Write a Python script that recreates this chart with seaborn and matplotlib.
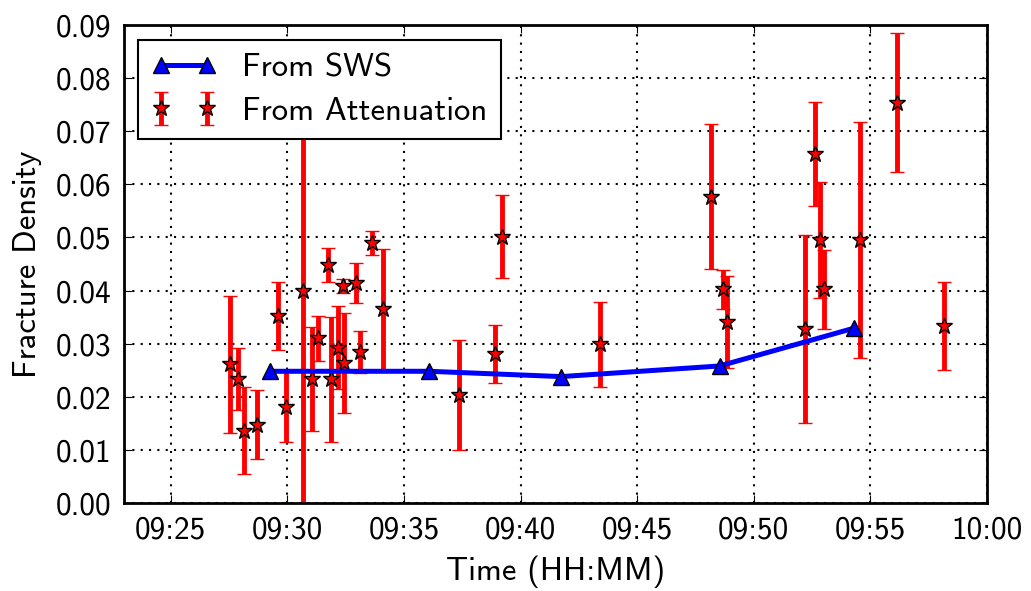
import matplotlib
matplotlib.use("Agg")
import matplotlib.pyplot as plt
import matplotlib.dates as mdates
import seaborn as sns
import pandas as pd
import numpy as np

# --- data ---
sws_time = ["09:29:15", "09:36:05", "09:41:45", "09:48:32", "09:54:17"]
sws_density = [0.0248, 0.0248, 0.0238, 0.0258, 0.0329]

att_time = ["09:27:32", "09:27:53", "09:28:08", "09:28:42", "09:29:35", "09:29:56",
            "09:30:41", "09:31:04", "09:31:19", "09:31:46", "09:31:52", "09:32:11",
            "09:32:24", "09:32:26", "09:32:56", "09:33:08", "09:33:39", "09:34:05",
            "09:37:22", "09:38:55", "09:39:13", "09:43:25", "09:48:09", "09:48:41",
            "09:48:51", "09:52:11", "09:52:38", "09:52:51", "09:53:01", "09:54:34",
            "09:56:08", "09:58:09"]
att_density = [0.0261, 0.0233, 0.0136, 0.0147, 0.0353, 0.0180,
               0.0400, 0.0233, 0.0310, 0.0449, 0.0233, 0.0292,
               0.0409, 0.0263, 0.0414, 0.0284, 0.0490, 0.0365,
               0.0203, 0.0280, 0.0501, 0.0299, 0.0577, 0.0402,
               0.0341, 0.0327, 0.0657, 0.0495, 0.0402, 0.0495,
               0.0754, 0.0333]
att_error = [0.0129, 0.0058, 0.0082, 0.0065, 0.0064, 0.0066,
             0.0460, 0.0098, 0.0042, 0.0032, 0.0118, 0.0078,
             0.0013, 0.0094, 0.0037, 0.0040, 0.0023, 0.0114,
             0.0103, 0.0055, 0.0078, 0.0080, 0.0136, 0.0037,
             0.0087, 0.0177, 0.0098, 0.0109, 0.0074, 0.0222,
             0.0130, 0.0083]

yticks = [0.00, 0.01, 0.02, 0.03, 0.04, 0.05, 0.06, 0.07, 0.08, 0.09]

day = "2015-01-01 "
sws_df = pd.DataFrame({"time": pd.to_datetime([day + t for t in sws_time]),
                       "density": sws_density})
att_df = pd.DataFrame({"time": pd.to_datetime([day + t for t in att_time]),
                       "density": att_density, "err": att_error})

sns.set_style("ticks")
plt.rcParams.update({
    "font.family": ["cmss10", "DejaVu Sans"],
    "mathtext.fontset": "cm",
    "axes.formatter.use_mathtext": True,
    "axes.unicode_minus": False,
    "xtick.direction": "in",
    "ytick.direction": "in",
    "xtick.top": True,
    "ytick.right": True,
    "xtick.major.size": 6,
    "ytick.major.size": 6,
    "xtick.major.width": 0.8,
    "ytick.major.width": 0.8,
    "axes.linewidth": 2.0,
    "axes.edgecolor": "black",
    "xtick.color": "black",
    "ytick.color": "black",
    "axes.labelcolor": "black",
    "text.color": "black",
})

fig = plt.figure(figsize=(10.31, 5.91), dpi=100)
ax = fig.add_axes([0.1203, 0.1489, 0.9573 - 0.1203, 0.9577 - 0.1489])

eb = ax.errorbar(att_df["time"], att_df["density"], yerr=att_df["err"],
                 fmt="*", color="red", ecolor="red", elinewidth=3.5,
                 capsize=5, capthick=1.6, markersize=12,
                 markerfacecolor="red", markeredgecolor="black",
                 markeredgewidth=1.0, zorder=2, label="From Attenuation")

sns.lineplot(data=sws_df, x="time", y="density", ax=ax, color="blue",
             linewidth=3.6, marker="^", markersize=12,
             markerfacecolor="blue", markeredgecolor="black",
             markeredgewidth=1.0, zorder=3, label="From SWS")

ax.set_xlim(pd.Timestamp(day + "09:23:00"), pd.Timestamp(day + "10:00:00"))
ax.set_ylim(0, 0.09)
ax.set_yticks(yticks)
ax.set_yticklabels([f"{v:.2f}" for v in yticks])
ax.xaxis.set_major_locator(mdates.MinuteLocator(byminute=range(0, 60, 5)))
ax.xaxis.set_major_formatter(mdates.DateFormatter("%H:%M"))
ax.tick_params(labelsize=22.5, pad=9)

ax.grid(True, color="black", linestyle=(0, (1, 3)), linewidth=1.5)
ax.set_axisbelow(True)

ax.set_xlabel("Time (HH:MM)", fontsize=23.5, labelpad=8)
ax.set_ylabel("Fracture Density", fontsize=23.5, labelpad=10)

handles, labels = ax.get_legend_handles_labels()
order = [labels.index("From SWS"), labels.index("From Attenuation")]
leg = ax.legend([handles[i] for i in order], [labels[i] for i in order],
                loc="upper left", bbox_to_anchor=(0.0162, 0.9686),
                borderaxespad=0, numpoints=2, fontsize=23.5, fancybox=False,
                framealpha=1, edgecolor="black", handlelength=2.0,
                borderpad=0.4, labelspacing=0.45, handletextpad=0.8)
leg.get_frame().set_linewidth(1.5)
leg.set_zorder(10)

fig.savefig("out.png", dpi=100)
